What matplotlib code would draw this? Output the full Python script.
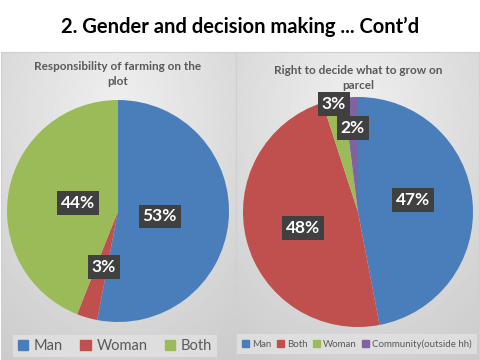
import matplotlib.pyplot as plt
import numpy as np
from matplotlib.patches import Patch

plt.rcParams['font.family'] = ['Lato', 'DejaVu Sans']

# chart data
title = "2. Gender and decision making ... Cont\u2019d"

left_title = "Responsibility of farming on the\nplot"
left_labels = ["Man", "Woman", "Both"]
left_values = [53, 3, 44]

right_title = "Right to decide what to grow on\nparcel"
right_labels = ["Man", "Both", "Woman", "Community(outside hh)"]
right_values = [47, 48, 3, 2]

blue = '#4a7ebb'
red = '#c0504d'
green = '#9bbb59'
purple = '#8064a2'
left_colors = [blue, red, green]
right_colors = [blue, red, green, purple]

W, H = 480, 360
fig = plt.figure(figsize=(4.8, 3.6), dpi=100)


def px_axes(x0, y0, x1, y1):
    # axes from pixel box (top-left origin)
    return fig.add_axes([x0 / W, 1 - y1 / H, (x1 - x0) / W, (y1 - y0) / H])


# gray gradient panels
def panel(x0, x1):
    ax = px_axes(x0, 52, x1, 360)
    yy, xx = np.mgrid[0:1:200j, 0:1:200j]
    d = np.sqrt((xx - 0.5) ** 2 + ((yy - 0.2) * 0.9) ** 2)
    img = 0.94 - 0.14 * np.clip(d / 0.85, 0, 1)
    ax.imshow(img, cmap='gray', vmin=0, vmax=1, extent=[0, 1, 0, 1],
              aspect='auto', origin='upper')
    ax.set_xticks([])
    ax.set_yticks([])
    for s in ax.spines.values():
        s.set_color('#d0d0d0')
        s.set_linewidth(0.8)
    return ax


panel(1, 236)
panel(236, 479)

fig.text(0.5, 1 - 27 / H, title, ha='center', va='center',
         fontsize=14.5, fontweight='bold', color='black')


def draw_pie(box, values, colors, dists, offsets, sub, sub_y):
    ax = px_axes(*box)
    wedges, _ = ax.pie(values, colors=colors, startangle=90, counterclock=False,
                       radius=1, wedgeprops=dict(linewidth=0))
    ax.set_xlim(-1, 1)
    ax.set_ylim(-1, 1)
    ax.set_aspect('equal')
    for w, v, d, off in zip(wedges, values, dists, offsets):
        ang = np.deg2rad((w.theta1 + w.theta2) / 2 + off)
        ax.text(d * np.cos(ang), d * np.sin(ang), f"{v}%", ha='center', va='center',
                fontsize=12.5, fontweight='bold', color='white',
                bbox=dict(boxstyle='square,pad=0.22', fc='#404040', ec='none'))
    cx = (box[0] + box[2]) / 2
    fig.text(cx / W, 1 - sub_y / H, sub, ha='center', va='center', fontsize=8.5,
             fontweight='bold', color='#595959', linespacing=1.5)
    return ax


draw_pie((7, 100, 229, 322), left_values, left_colors,
         [0.38, 0.52, 0.37], [-2, 2, 0], left_title, 74)
draw_pie((243, 97, 473, 327), right_values, right_colors,
         [0.49, 0.5, 0.96, 0.73], [7, 2, 0, 0], right_title, 78)

# legends
lh = [Patch(color=c, label=l) for c, l in zip(left_colors, left_labels)]
leg = fig.legend(handles=lh, loc='center', bbox_to_anchor=(115 / W, 1 - 346 / H),
                 ncol=3, frameon=True, fontsize=10.5, handlelength=0.7, handleheight=0.7,
                 handletextpad=0.4, columnspacing=1.2, borderpad=0.3, fancybox=False)
leg.get_frame().set_facecolor('#e2e2e2')
leg.get_frame().set_edgecolor('none')
for t in leg.get_texts():
    t.set_color('#595959')

rh = [Patch(color=c, label=l) for c, l in zip(right_colors, right_labels)]
leg2 = fig.legend(handles=rh, loc='center', bbox_to_anchor=(357 / W, 1 - 344 / H),
                  ncol=4, frameon=True, fontsize=7, handlelength=0.7, handleheight=0.7,
                  handletextpad=0.3, columnspacing=0.6, borderpad=0.5, fancybox=False)
leg2.get_frame().set_facecolor('#e2e2e2')
leg2.get_frame().set_edgecolor('none')
for t in leg2.get_texts():
    t.set_color('#595959')

fig.savefig('out.png', dpi=100)
